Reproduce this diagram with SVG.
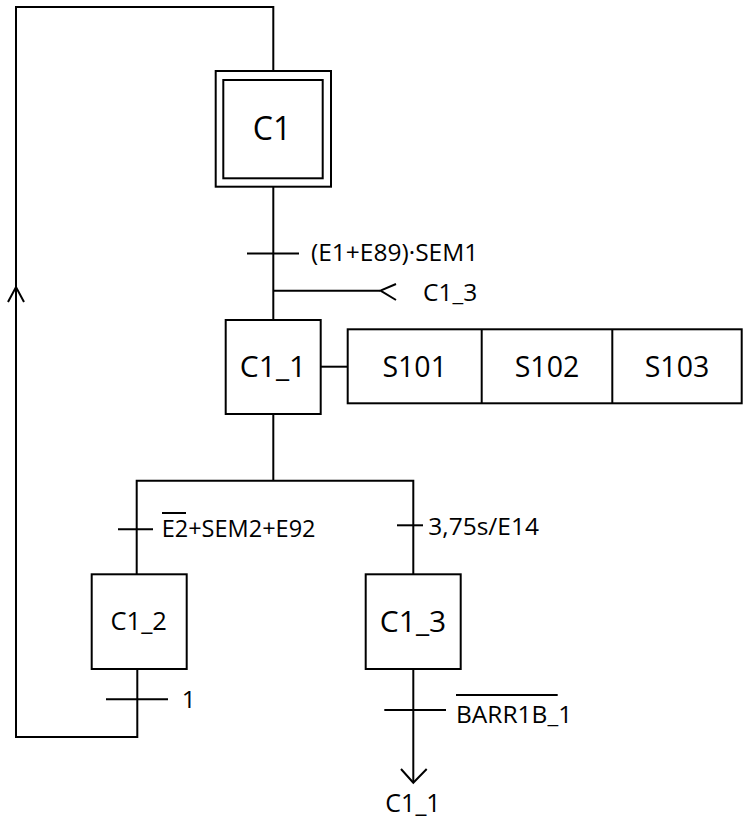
<svg xmlns="http://www.w3.org/2000/svg" width="752" height="822" viewBox="0 0 752 822">
<style>
.ln{fill:none;stroke:#000;stroke-width:2}
.box{fill:#fff;stroke:#000;stroke-width:2}
.big{font-family:"Open Sans","Liberation Sans",sans-serif;font-size:30px;fill:#000;text-anchor:middle}
.lbl{font-family:"Open Sans","Liberation Sans",sans-serif;font-size:24.5px;fill:#000}
</style>
<rect width="752" height="822" fill="#fff"/>
<g id="connectors">
<polyline class="ln" stroke-width="2.5" points="273.3,71 273.3,7 16,7 16,737 137.3,737 137.3,669"/>
<polyline class="ln" points="8,302 16,287 24,302"/>
<line class="ln" x1="273.3" y1="187" x2="273.3" y2="320"/>
<line class="ln" stroke-width="3.5" x1="247" y1="253.5" x2="299" y2="253.5"/>
<line class="ln" x1="273.3" y1="290.7" x2="380" y2="290.7"/>
<polyline class="ln" points="396,284 380.5,290.7 396,300"/>
<line class="ln" stroke-width="3.5" x1="273.3" y1="414" x2="273.3" y2="481"/>
<polyline class="ln" points="136.7,574.3 136.7,480.7 413.3,480.7 413.3,574.3"/>
<line class="ln" x1="118" y1="529.3" x2="153" y2="529.3"/>
<line class="ln" x1="397" y1="525.3" x2="423" y2="525.3"/>
<line class="ln" x1="320.7" y1="366.7" x2="347.7" y2="366.7"/>
<line class="ln" x1="106" y1="699.3" x2="168" y2="699.3"/>
<line class="ln" x1="413.3" y1="669" x2="413.3" y2="782"/>
<line class="ln" x1="384.3" y1="710" x2="446" y2="710"/>
<polyline class="ln" points="401,769 413.3,782.7 426.7,769"/>
</g>
<g id="C1">
<rect class="box" stroke-width="2.5" x="215.7" y="71" width="115.3" height="115.7"/>
<rect class="box" stroke-width="2.5" x="223.3" y="80" width="99.4" height="98.3"/>
<text class="big" style="font-size:32px" x="272" y="140">C1</text>
</g>
<g id="T1">
<text class="lbl" x="311" y="261">(E1+E89)·SEM1</text>
<text class="lbl" x="423" y="301">C1_3</text>
</g>
<g id="C1_1">
<rect class="box" x="225.7" y="320" width="95" height="94"/>
<text class="big" x="273" y="377">C1_1</text>
</g>
<g id="actions">
<rect class="box" x="347.7" y="329.3" width="394" height="74"/>
<line class="ln" x1="481.7" y1="329.3" x2="481.7" y2="403.3"/>
<line class="ln" x1="612.3" y1="329.3" x2="612.3" y2="403.3"/>
<text class="big" style="font-size:28.5px" x="414.7" y="377">S101</text>
<text class="big" style="font-size:28.5px" x="547" y="377">S102</text>
<text class="big" style="font-size:28.5px" x="677" y="377">S103</text>
</g>
<g id="T2">
<text class="lbl" style="font-size:23.5px" x="161.7" y="537">E2+SEM2+E92</text>
<line class="ln" x1="162" y1="513" x2="186" y2="513"/>
</g>
<g id="T3">
<text class="lbl" x="428.3" y="535">3,75s/E14</text>
</g>
<g id="C1_2">
<rect class="box" x="91.7" y="574.3" width="95" height="94.7"/>
<text class="big" style="font-size:25.5px" x="138.7" y="630">C1_2</text>
</g>
<g id="C1_3">
<rect class="box" x="365.7" y="574.3" width="95" height="94.7"/>
<text class="big" x="413" y="632">C1_3</text>
</g>
<g id="T4">
<text class="lbl" x="181.7" y="707.7">1</text>
</g>
<g id="T5">
<text class="lbl" x="456" y="723">BARR1B_1</text>
<line class="ln" x1="456" y1="695" x2="557.7" y2="695"/>
</g>
<g id="target">
<text class="lbl" style="font-size:25px" x="413" y="811.7" text-anchor="middle">C1_1</text>
</g>
</svg>
